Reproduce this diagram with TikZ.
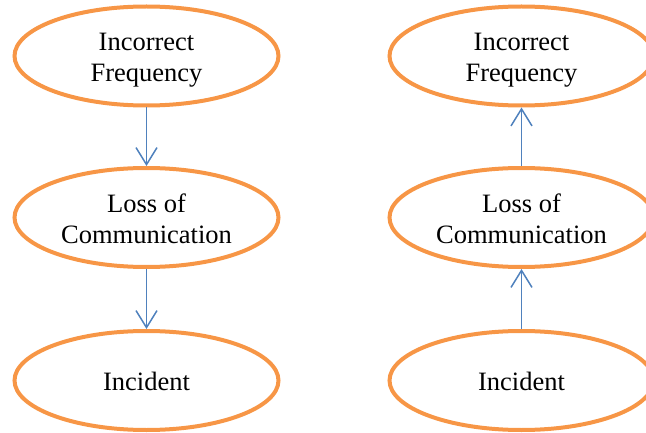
\documentclass[tikz,border=0pt]{standalone}
\usepackage{fontspec}
\setmainfont{Liberation Serif}
\usetikzlibrary{shapes.geometric,arrows.meta}
\definecolor{ovalorange}{HTML}{F79646}
\definecolor{linkblue}{HTML}{4F81BD}
\begin{document}
\begin{tikzpicture}[x=1pt,y=-1pt,
  oval/.style={ellipse, draw=ovalorange, line width=4pt, minimum width=264pt,
    minimum height=99pt, inner sep=0pt},
  ovaltext/.style={align=center, font=\fontsize{26.5}{31}\selectfont},
  link/.style={draw=linkblue, line width=1.5pt,
    -{Straight Barb[length=17pt,width=21pt,line width=1.5pt]}}]
\useasboundingbox (0,0) rectangle (646,433);
% left chain: causes point downward
\node[oval] (lf) at (146.5,56) {};
\node[oval] (lc) at (146.5,217.5) {};
\node[oval] (li) at (146.5,380.5) {};
\node[ovaltext] (lft) at ([yshift=-4pt]lf.center) {Incorrect\\Frequency};
\node[ovaltext] (lct) at ([yshift=-1pt]lc.center) {Loss of\\Communication};
\node[ovaltext] (lit) at ([yshift=-1pt]li.center) {Incident};
\draw[link] (lf) -- (lc);
\draw[link] (lc) -- (li);
% right chain: links point upward
\node[oval] (rf) at (521.5,56) {};
\node[oval] (rc) at (521.5,217.5) {};
\node[oval] (ri) at (521.5,380.5) {};
\node[ovaltext] (rft) at ([yshift=-4pt]rf.center) {Incorrect\\Frequency};
\node[ovaltext] (rct) at ([yshift=-1pt]rc.center) {Loss of\\Communication};
\node[ovaltext] (rit) at ([yshift=-1pt]ri.center) {Incident};
\draw[link] (rc) -- (rf);
\draw[link] (ri) -- (rc);
\end{tikzpicture}
\end{document}
